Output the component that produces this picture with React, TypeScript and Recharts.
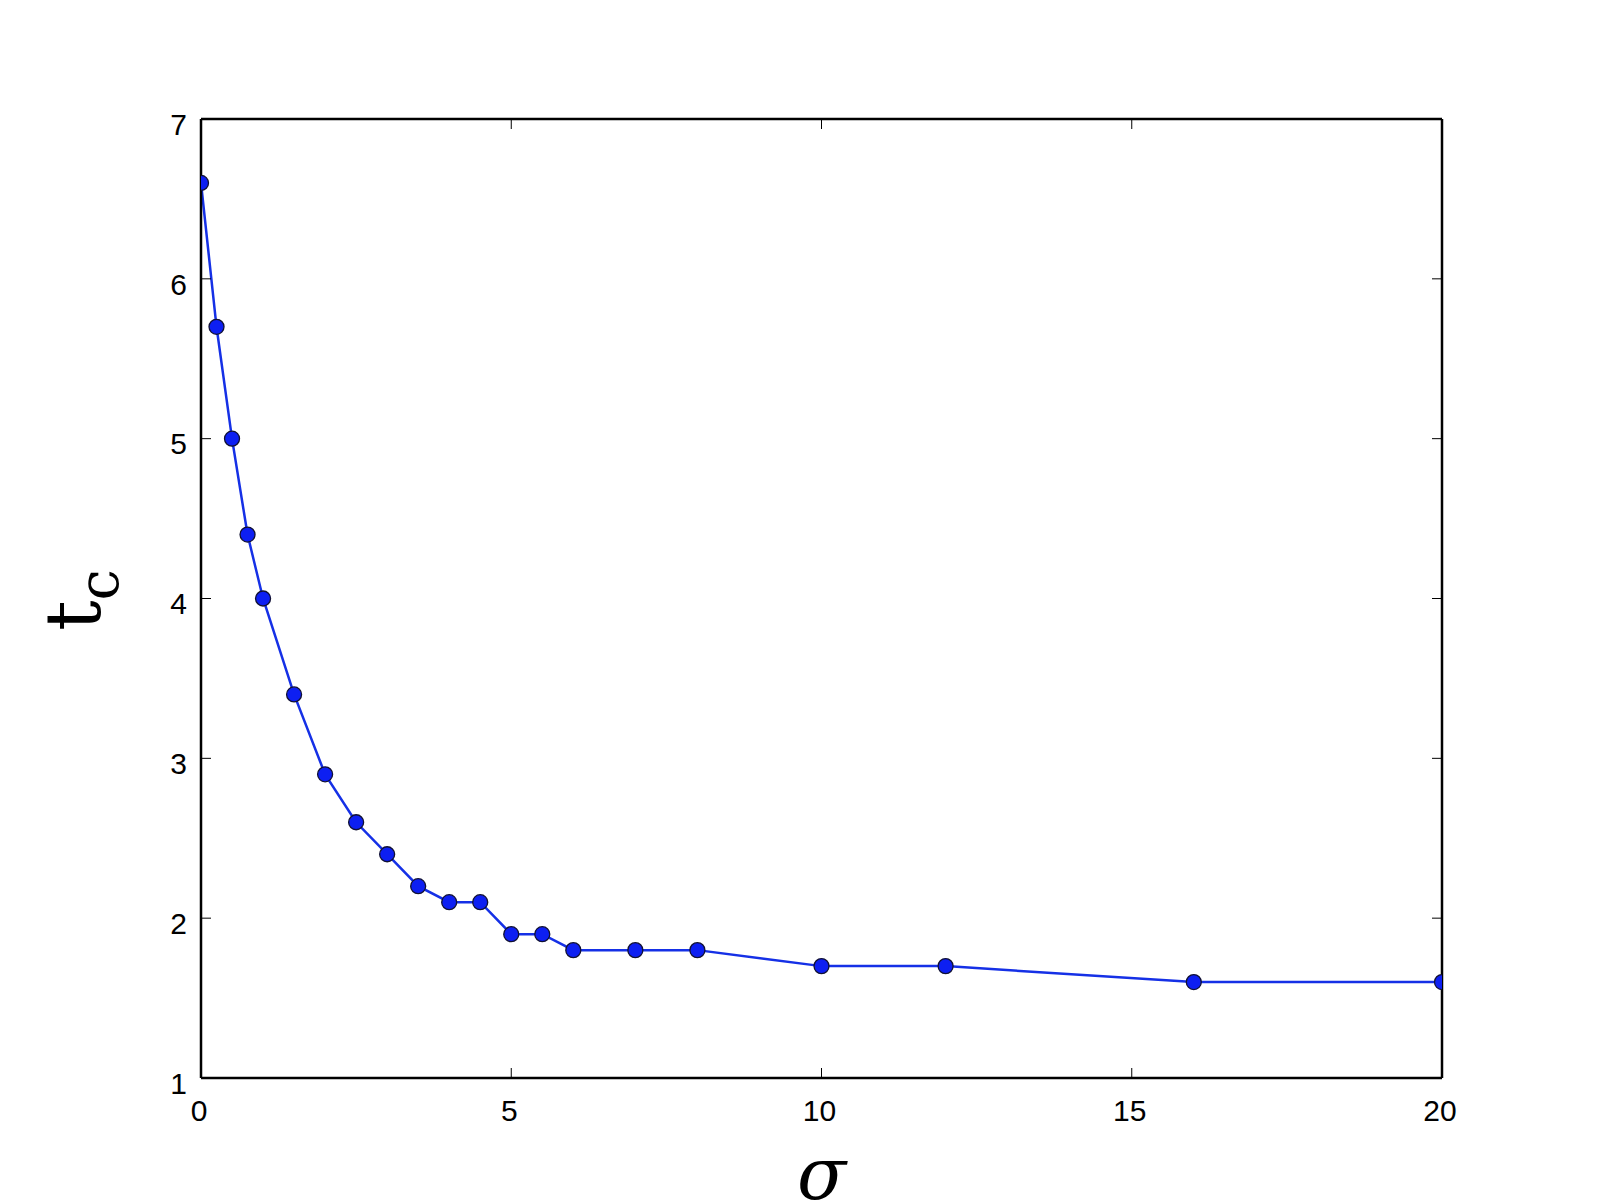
import { LineChart, Line, XAxis, YAxis } from 'recharts';

const sigma = [0, 0.25, 0.5, 0.75, 1, 1.5, 2, 2.5, 3, 3.5, 4, 4.5, 5, 5.5, 6, 7, 8, 10, 12, 16, 20];
const tc = [6.6, 5.7, 5.0, 4.4, 4.0, 3.4, 2.9, 2.6, 2.4, 2.2, 2.1, 2.1, 1.9, 1.9, 1.8, 1.8, 1.8, 1.7, 1.7, 1.6, 1.6];
const xTicks = [0, 5, 10, 15, 20];
const yTicks = [1, 2, 3, 4, 5, 6, 7];

const data = sigma.map((s, i) => ({ sigma: s, tc: tc[i] }));

const tickFont = '"Liberation Sans", Arial, sans-serif';

const BottomTick = (props: any) => {
   const { x, y, payload } = props;
   return (
      <text x={x - 2} y={y} dy="0.71em" textAnchor="middle" fontSize={30} fontFamily={tickFont} fill="#000">
         {payload.value}
      </text>
   );
};

const LeftTick = (props: any) => {
   const { x, y, payload } = props;
   return (
      <text x={x} y={y + 5} dy="0.36em" textAnchor="end" fontSize={30} fontFamily={tickFont} fill="#000">
         {payload.value}
      </text>
   );
};

const NoTick = () => <g />;

const SigmaLabel = (props: any) => {
   const { viewBox } = props;
   const cx = viewBox.x + viewBox.width / 2;
   return (
      <text x={cx} y={1199} textAnchor="middle" fontSize={72} fontStyle="italic" fontFamily='"DejaVu Serif", "Liberation Serif", serif' fill="#000">
         σ
      </text>
   );
};

const TcLabel = () => {
   const cx = 100;
   const cy = 600;
   return (
      <text x={cx} y={cy} transform={`rotate(-90, ${cx}, ${cy})`} textAnchor="middle" fontFamily='"DejaVu Serif", "Liberation Serif", serif' fill="#000">
         <tspan fontSize={76}>t</tspan>
         <tspan fontSize={56} dy={18}>c</tspan>
      </text>
   );
};

const App = () => (
   <div style={{ position: 'absolute', left: 0, top: 0, background: '#fff' }}>
      <LineChart width={1600} height={1200} data={data} margin={{ top: 109, right: 148, bottom: 62, left: 141 }}>
         <XAxis
            xAxisId="bottom"
            type="number"
            dataKey="sigma"
            domain={[0, 20]}
            ticks={xTicks}
            allowDataOverflow
            height={60}
            tickSize={-10}
            tickMargin={32}
            tick={BottomTick}
            axisLine={{ stroke: '#000', strokeWidth: 2.5 }}
            tickLine={{ stroke: '#000', strokeWidth: 1 }}
            label={<SigmaLabel />}
         />
         <XAxis
            xAxisId="top"
            orientation="top"
            type="number"
            dataKey="sigma"
            domain={[0, 20]}
            ticks={xTicks}
            allowDataOverflow
            height={10}
            tickSize={-10}
            tick={NoTick}
            axisLine={{ stroke: '#000', strokeWidth: 2.5 }}
            tickLine={{ stroke: '#000', strokeWidth: 1 }}
         />
         <YAxis
            yAxisId="left"
            type="number"
            domain={[1, 7]}
            ticks={yTicks}
            allowDataOverflow
            width={60}
            tickSize={-10}
            tickMargin={24}
            tick={LeftTick}
            axisLine={{ stroke: '#000', strokeWidth: 2.5 }}
            tickLine={{ stroke: '#000', strokeWidth: 1 }}
            label={<TcLabel />}
         />
         <YAxis
            yAxisId="right"
            orientation="right"
            type="number"
            domain={[1, 7]}
            ticks={yTicks}
            allowDataOverflow
            width={10}
            tickSize={-10}
            tick={NoTick}
            axisLine={{ stroke: '#000', strokeWidth: 2.5 }}
            tickLine={{ stroke: '#000', strokeWidth: 1 }}
         />
         <Line
            xAxisId="bottom"
            yAxisId="left"
            type="linear"
            dataKey="tc"
            stroke="#1530e6"
            strokeWidth={2.5}
            dot={{ r: 7.5, fill: '#0d1ff2', stroke: '#111133', strokeWidth: 1.3 }}
            isAnimationActive={false}
         />
      </LineChart>
   </div>
);

export default App;
